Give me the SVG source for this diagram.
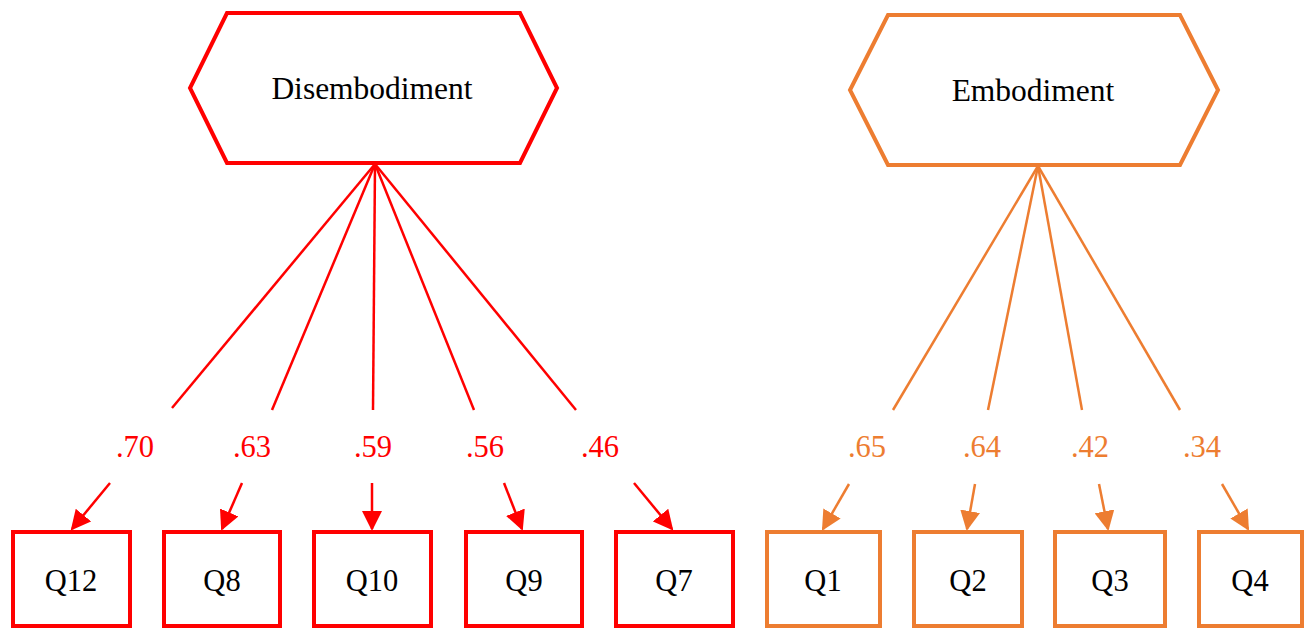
<svg xmlns="http://www.w3.org/2000/svg" width="1306" height="629" viewBox="0 0 1306 629">
<defs>
<marker id="ar" viewBox="0 0 10 10" refX="9" refY="5" markerWidth="8" markerHeight="8" markerUnits="strokeWidth" orient="auto"><path d="M0,0 L10,5 L0,10 z" fill="#FF0000"/></marker>
<marker id="ao" viewBox="0 0 10 10" refX="9" refY="5" markerWidth="8" markerHeight="8" markerUnits="strokeWidth" orient="auto"><path d="M0,0 L10,5 L0,10 z" fill="#ED7D31"/></marker>
</defs>
<style>
.r{stroke:#FF0000;fill:#fff;stroke-width:4}
.o{stroke:#ED7D31;fill:#fff;stroke-width:4}
.lr{stroke:#FF0000;stroke-width:2.5;fill:none}
.lo{stroke:#ED7D31;stroke-width:2.5;fill:none}
.t{font-family:"Liberation Serif","Times New Roman",serif;font-size:30.5px;fill:#000;text-anchor:middle}
.h{font-family:"Liberation Serif","Times New Roman",serif;font-size:31.5px;fill:#000;text-anchor:middle}
.nr{font-family:"Liberation Serif","Times New Roman",serif;font-size:30.5px;fill:#FF0000;text-anchor:middle}
.no{font-family:"Liberation Serif","Times New Roman",serif;font-size:30.5px;fill:#ED7D31;text-anchor:middle}
</style>
<rect width="1306" height="629" fill="#fff"/>
<g id="connectors">
<line class="lr" x1="375" y1="164" x2="172" y2="408"/>
<line class="lr" x1="375" y1="164" x2="272" y2="410"/>
<line class="lr" x1="375" y1="164" x2="373" y2="410"/>
<line class="lr" x1="375" y1="164" x2="474" y2="410"/>
<line class="lr" x1="375" y1="164" x2="576" y2="410"/>
<line class="lo" x1="1038" y1="166" x2="893" y2="410"/>
<line class="lo" x1="1038" y1="166" x2="988" y2="410"/>
<line class="lo" x1="1038" y1="166" x2="1082" y2="410"/>
<line class="lo" x1="1038" y1="166" x2="1180" y2="410"/>
<line class="lr" marker-end="url(#ar)" x1="110" y1="483" x2="72" y2="529"/>
<line class="lr" marker-end="url(#ar)" x1="242" y1="483" x2="222" y2="529"/>
<line class="lr" marker-end="url(#ar)" x1="372" y1="483" x2="372" y2="529"/>
<line class="lr" marker-end="url(#ar)" x1="504" y1="483" x2="522" y2="529"/>
<line class="lr" marker-end="url(#ar)" x1="634" y1="483" x2="672" y2="529"/>
<line class="lo" marker-end="url(#ao)" x1="849" y1="484" x2="823" y2="529"/>
<line class="lo" marker-end="url(#ao)" x1="975" y1="484" x2="967" y2="529"/>
<line class="lo" marker-end="url(#ao)" x1="1099" y1="484" x2="1108" y2="529"/>
<line class="lo" marker-end="url(#ao)" x1="1222" y1="484" x2="1248" y2="529"/>
<text class="nr" x="135" y="457">.70</text>
<text class="nr" x="252" y="457">.63</text>
<text class="nr" x="373" y="457">.59</text>
<text class="nr" x="485" y="457">.56</text>
<text class="nr" x="600" y="457">.46</text>
<text class="no" x="867" y="457">.65</text>
<text class="no" x="982" y="457">.64</text>
<text class="no" x="1090" y="457">.42</text>
<text class="no" x="1202" y="457">.34</text>
</g>
<g id="disembodiment">
<polygon class="r" points="227,13 520,13 557,88 520,163 227,163 190,88"/>
<text class="h" x="372" y="99">Disembodiment</text>
</g>
<g id="embodiment">
<polygon class="o" points="888,15 1180,15 1218,90 1180,165 888,165 850,90"/>
<text class="h" x="1033" y="101">Embodiment</text>
</g>
<g id="q12"><rect class="r" x="13" y="532" width="117" height="94"/><text class="t" x="71" y="591">Q12</text></g>
<g id="q8"><rect class="r" x="164" y="532" width="116" height="94"/><text class="t" x="222" y="591">Q8</text></g>
<g id="q10"><rect class="r" x="314" y="532" width="117" height="94"/><text class="t" x="372" y="591">Q10</text></g>
<g id="q9"><rect class="r" x="466" y="532" width="116" height="94"/><text class="t" x="524" y="591">Q9</text></g>
<g id="q7"><rect class="r" x="616" y="532" width="117" height="94"/><text class="t" x="674" y="591">Q7</text></g>
<g id="q1"><rect class="o" x="767" y="532" width="113" height="94"/><text class="t" x="823" y="591">Q1</text></g>
<g id="q2"><rect class="o" x="914" y="532" width="108" height="94"/><text class="t" x="968" y="591">Q2</text></g>
<g id="q3"><rect class="o" x="1055" y="532" width="110" height="94"/><text class="t" x="1110" y="591">Q3</text></g>
<g id="q4"><rect class="o" x="1199" y="532" width="103" height="94"/><text class="t" x="1250" y="591">Q4</text></g>
</svg>
